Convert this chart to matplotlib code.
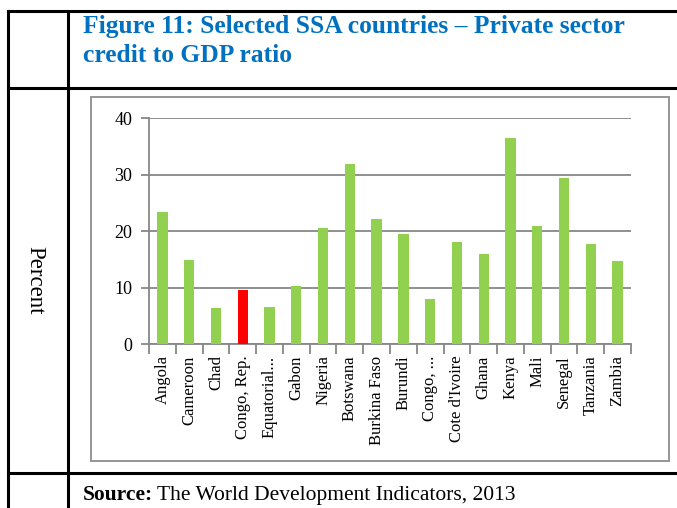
import matplotlib
matplotlib.use("Agg")
import matplotlib.pyplot as plt
from matplotlib.lines import Line2D
from matplotlib.patches import Rectangle

# Private sector credit to GDP ratio (percent), selected SSA countries
countries = ["Angola", "Cameroon", "Chad", "Congo, Rep.", "Equatorial...", "Gabon",
             "Nigeria", "Botswana", "Burkina Faso", "Burundi", "Congo, ...",
             "Cote d'Ivoire", "Ghana", "Kenya", "Mali", "Senegal", "Tanzania", "Zambia"]
values = [23.4, 14.9, 6.4, 9.6, 6.6, 10.3, 20.6, 31.9, 22.2, 19.5, 8.0,
          18.1, 16.0, 36.5, 20.9, 29.4, 17.8, 14.7]
highlight = "Congo, Rep."
y_ticks = [0, 10, 20, 30, 40]

W, H = 677, 508
fig = plt.figure(figsize=(W / 100, H / 100), dpi=100)
fig.patch.set_facecolor("white")


def fx(x):
    return x / W


def fy(y):
    return 1 - y / H


# table rules around the figure
black = "black"
lw_tab = 2.2
for (x0, y0, x1, y1) in [(8, 10.5, W, 10.5), (8, 87.5, W, 87.5), (8, 472.5, W, 472.5),
                         (8, 10.5, 8, H), (67.5, 10.5, 67.5, H)]:
    fig.add_artist(Line2D([fx(x0), fx(x1)], [fy(y0), fy(y1)], color=black,
                          lw=lw_tab, solid_capstyle="projecting"))

# chart frame
fig.add_artist(Rectangle((fx(91.5), fy(461)), fx(669) - fx(91.5), fy(97.5) - fy(461),
                         fill=False, edgecolor="#8c8c8c", lw=1.3))

# title
title_font = dict(family="Liberation Serif", weight="bold", color="#0070C0", fontsize=18.4)
fig.text(fx(83), fy(33), "Figure 11: Selected SSA countries \u2013 Private sector",
         ha="left", va="baseline", **title_font)
fig.text(fx(83), fy(62), "credit to GDP ratio", ha="left", va="baseline", **title_font)

# side label
fig.text(fx(35), fy(280), "Percent", rotation=270, ha="center", va="center",
         family="Liberation Serif", fontsize=16.5)

# bar chart
ax = fig.add_axes([fx(149), fy(344.3), (631 - 149) / W, (344.3 - 118.3) / H])
x = range(len(countries))
colors = ["#FF0000" if c == highlight else "#92D050" for c in countries]
ax.bar(x, values, width=0.39, color=colors, zorder=3)
ax.set_xlim(-0.5, len(countries) - 0.5)
ax.set_ylim(0, 40)
ax.set_yticks(y_ticks)
ax.set_yticklabels([str(t) for t in y_ticks], family="Liberation Serif", fontsize=13)
ax.yaxis.grid(True, color="#878787", lw=1.3, zorder=0)
ax.set_axisbelow(True)
for s in ["top", "right"]:
    ax.spines[s].set_visible(False)
for s in ["left", "bottom"]:
    ax.spines[s].set_color("#878787")
    ax.spines[s].set_linewidth(1.3)
ax.tick_params(axis="y", length=6, width=1.3, color="#878787", pad=6)

# ticks between categories, labels centred under bars
ax.set_xticks([i - 0.5 for i in range(len(countries) + 1)])
ax.set_xticklabels([])
ax.set_xticks(list(x), minor=True)
ax.set_xticklabels(countries, minor=True, rotation=90, family="Liberation Serif",
                   fontsize=12, va="top", ha="center")
ax.tick_params(axis="x", which="major", length=7, width=1.3, color="#878787")
ax.tick_params(axis="x", which="minor", length=0, pad=8)

# source line
fig.canvas.draw()
r = fig.canvas.get_renderer()
t1 = fig.text(fx(83), fy(500), "Source:", ha="left", va="baseline",
              family="Liberation Serif", weight="bold", fontsize=15.5)
bb = t1.get_window_extent(renderer=r)
fig.text(bb.x1 / W + fx(4), fy(500), "The World Development Indicators, 2013",
         ha="left", va="baseline", family="Liberation Serif", fontsize=15.5)

fig.savefig("out.png", dpi=100)
